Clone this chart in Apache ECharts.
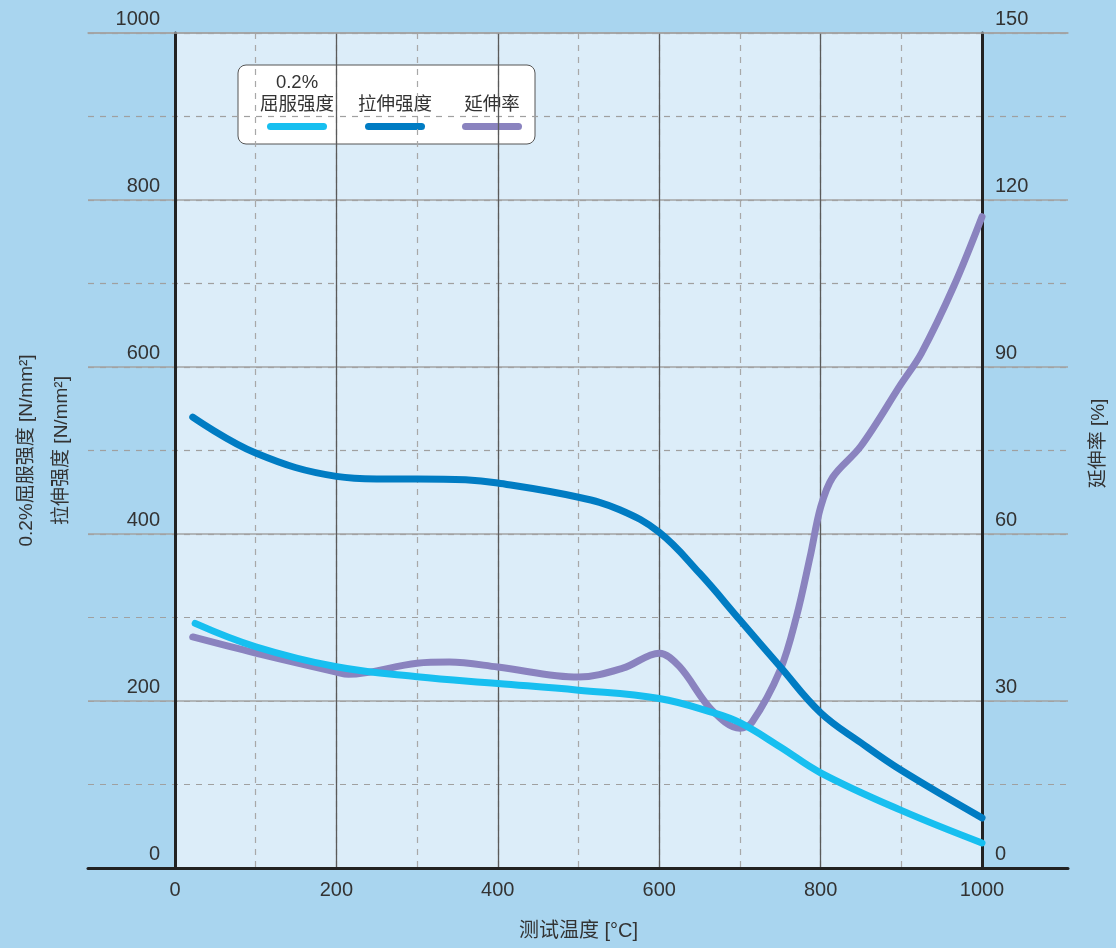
<!DOCTYPE html>
<html>
<head>
<meta charset="utf-8">
<script src="https://cdn.jsdelivr.net/npm/echarts@6/dist/echarts.min.js"></script>
<style>
html,body{margin:0;padding:0;background:#a9d5ef;}
#chart{width:1116px;height:948px;}
</style>
</head>
<body>
<div id="chart"></div>
<script>
// ---- data ----
const xTicks = [0, 200, 400, 600, 800, 1000];
const strengthTicks = [0, 200, 400, 600, 800, 1000];
const elongTicks = [0, 30, 60, 90, 120, 150];

const yieldTemp = [25, 100, 200, 300, 400, 500, 600, 667, 700, 750, 800, 900, 1000];
const yieldVals = [293, 265, 241, 229, 221, 213, 203, 186, 174, 145, 114, 69, 30];

const tensileTemp = [22, 100, 200, 250, 300, 360, 400, 500, 551, 600, 650, 700, 750, 800, 850, 900, 1000];
const tensileVals = [540, 497, 469, 466, 466, 465, 461, 444, 429, 402, 353, 297, 241, 186, 150, 117, 60];

const elongTemp = [22, 100, 200, 215, 300, 340, 400, 500, 555, 600, 625, 665, 700, 715, 750, 770, 787, 800, 815, 850, 900, 925, 965, 1000];
const elongVals = [41.5, 38.6, 35.2, 34.8, 36.8, 37.0, 36.1, 34.3, 35.9, 38.6, 36.2, 28.4, 25.1, 26.2, 35.6, 45.1, 55.9, 64.8, 70.2, 75.8, 87, 92.5, 104.5, 117];

const seriesNames = ['0.2%\n屈服强度', '拉伸强度', '延伸率'];
const seriesColors = ['#17bff0', '#007cc3', '#8a83bf'];

const xName = '测试温度 [°C]';
const leftName = '0.2%屈服强度 [N/mm²]\n拉伸强度 [N/mm²]';
const rightName = '延伸率 [%]';

// ---- chart ----
const FONT = '"Liberation Sans", "Noto Sans CJK SC", sans-serif';
const TXT = '#333333';
const zip = (a, b) => a.map((v, i) => [v, b[i]]);

const chart = echarts.init(document.getElementById('chart'));

const legendItems = [];
const legendCenters = [297, 395, 492];
seriesNames.forEach((n, i) => {
  legendItems.push({
    type: 'text', x: legendCenters[i], y: 116,
    style: { text: n, font: '18.5px ' + FONT, fill: TXT, textAlign: 'center', textVerticalAlign: 'bottom', lineHeight: 22 }
  });
  legendItems.push({
    type: 'rect', shape: { x: legendCenters[i] - 30, y: 123, width: 60, height: 7, r: 3.5 },
    style: { fill: seriesColors[i] }
  });
});

const option = {
  backgroundColor: '#a9d5ef',
  animation: false,
  textStyle: { fontFamily: FONT },
  grid: [
    { left: 175, right: 134, top: 33, bottom: 80, show: true, backgroundColor: '#dcedf9', borderWidth: 0,
      containLabel: false, outerBoundsMode: 'none' },
    { left: 88, right: 48, top: 33, bottom: 80, show: false, containLabel: false, outerBoundsMode: 'none' }
  ],
  xAxis: [
    { // dashed verticals at 100s
      gridIndex: 0, type: 'value', min: 0, max: 1000, interval: 100, position: 'bottom',
      axisLine: { show: false }, axisTick: { show: false }, axisLabel: { show: false },
      splitLine: { show: true, lineStyle: { color: '#a8a8a8', type: [6, 6], width: 1.2 } }
    },
    { // solid verticals at 200s + labels
      gridIndex: 0, type: 'value', min: 0, max: 1000, interval: 200, position: 'bottom', offset: 0,
      axisLine: { show: false }, axisTick: { show: false },
      axisLabel: { show: true, fontSize: 20, color: TXT, margin: 12, fontFamily: FONT,
        formatter: v => xTicks.includes(v) ? String(v) : '' },
      splitLine: { show: true, lineStyle: { color: '#5a5a5a', width: 1.3 } },
      name: xName, nameLocation: 'middle', nameGap: 53,
      nameTextStyle: { fontSize: 20, color: TXT, fontFamily: FONT }
    },
    { // wide bottom axis line
      gridIndex: 1, type: 'value', min: 0, max: 1000, position: 'bottom',
      axisLine: { show: true, onZero: false, lineStyle: { color: '#222', width: 3 } },
      axisTick: { show: false }, axisLabel: { show: false }, splitLine: { show: false }
    },
    { // wide top line
      gridIndex: 1, type: 'value', min: 0, max: 1000, position: 'top',
      axisLine: { show: true, onZero: false, lineStyle: { color: '#a3a3a3', width: 1.5 } },
      axisTick: { show: false }, axisLabel: { show: false }, splitLine: { show: false }
    }
  ],
  yAxis: [
    { // left strength axis
      gridIndex: 0, type: 'value', min: 0, max: 1000, interval: 200, position: 'left',
      axisLine: { show: true, onZero: false, lineStyle: { color: '#222', width: 3 } },
      axisTick: { show: false },
      splitLine: { show: false },
      axisLabel: { show: true, fontSize: 20, color: TXT, margin: 15, verticalAlign: 'bottom',
        padding: [0, 0, 4, 0], fontFamily: FONT,
        formatter: v => strengthTicks.includes(v) ? String(v) : '' },
      name: leftName, nameLocation: 'middle', nameRotate: 90, nameGap: 96,
      nameTextStyle: { fontSize: 19, color: TXT, lineHeight: 35, fontFamily: FONT, align: 'center' }
    },
    { // right elongation axis
      gridIndex: 0, type: 'value', min: 0, max: 150, interval: 30, position: 'right',
      axisLine: { show: true, onZero: false, lineStyle: { color: '#222', width: 3 } },
      axisTick: { show: false },
      splitLine: { show: false },
      axisLabel: { show: true, fontSize: 20, color: TXT, margin: 13, verticalAlign: 'bottom',
        padding: [0, 0, 4, 0], fontFamily: FONT,
        formatter: v => elongTicks.includes(v) ? String(v) : '' },
      name: rightName, nameLocation: 'middle', nameRotate: 90, nameGap: 107,
      nameTextStyle: { fontSize: 19, color: TXT, fontFamily: FONT, padding: [0, 0, 0, 14] }
    },
    { // wide dashed horizontals
      gridIndex: 1, type: 'value', min: 0, max: 1000, interval: 100, position: 'left',
      axisLine: { show: false }, axisTick: { show: false }, axisLabel: { show: false },
      splitLine: { show: true, lineStyle: { color: '#a0a0a0', type: [6, 6], width: 1.2 } }
    },
    { // wide solid horizontals
      gridIndex: 1, type: 'value', min: 0, max: 1000, interval: 200, position: 'left',
      axisLine: { show: false }, axisTick: { show: false }, axisLabel: { show: false },
      splitLine: { show: true, lineStyle: { color: '#a3a3a3', width: 1.5 } }
    }
  ],
  graphic: [
    {
      type: 'group', z: 100,
      children: [
        { type: 'rect', shape: { x: 238, y: 65, width: 297, height: 79, r: 8 },
          style: { fill: '#ffffff', stroke: '#555555', lineWidth: 1 } }
      ].concat(legendItems)
    }
  ],
  series: [
    {
      name: seriesNames[2], type: 'line', xAxisIndex: 1, yAxisIndex: 1,
      data: zip(elongTemp, elongVals), smooth: 0.35, showSymbol: false, symbol: 'none',
      lineStyle: { color: seriesColors[2], width: 7, cap: 'round', join: 'round' }, z: 3
    },
    {
      name: seriesNames[0], type: 'line', xAxisIndex: 1, yAxisIndex: 0,
      data: zip(yieldTemp, yieldVals), smooth: 0.4, showSymbol: false, symbol: 'none',
      lineStyle: { color: seriesColors[0], width: 7, cap: 'round', join: 'round' }, z: 4
    },
    {
      name: seriesNames[1], type: 'line', xAxisIndex: 1, yAxisIndex: 0,
      data: zip(tensileTemp, tensileVals), smooth: 0.4, showSymbol: false, symbol: 'none',
      lineStyle: { color: seriesColors[1], width: 7, cap: 'round', join: 'round' }, z: 5
    }
  ]
};
chart.setOption(option);
</script>
</body>
</html>
